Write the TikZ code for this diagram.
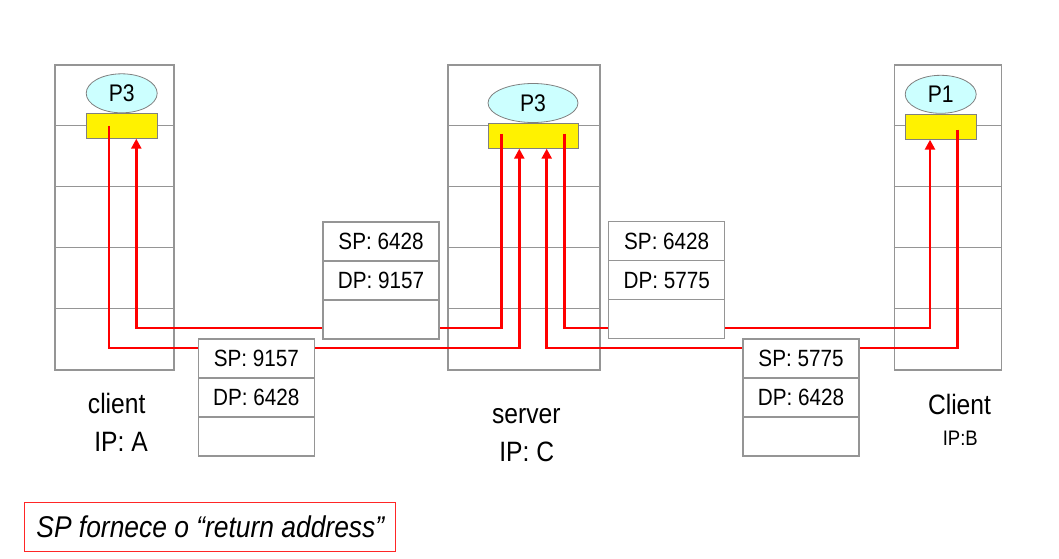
\documentclass[tikz,border=0pt]{standalone}
\usepackage{fontspec}
\setmainfont{Liberation Sans}[FakeStretch=0.88]
\usepackage{tikz}
\usetikzlibrary{arrows.meta,positioning,shapes.geometric}
\usepackage{xcolor}
\definecolor{proccyan}{HTML}{CCFFFF}
\definecolor{hostgray}{HTML}{959595}

\begin{document}
\begin{tikzpicture}[x=1pt,y=-1pt,line cap=butt,
  host/.style={draw=hostgray,line width=1.2pt,inner sep=0,minimum height=305pt},
  rowline/.style={hostgray,line width=1.2pt},
  proc/.style={ellipse,draw=gray,fill=proccyan,line width=0.8pt,inner sep=0,font=\fontsize{24}{26}\selectfont},
  sock/.style={draw=gray,fill=yellow,line width=0.8pt,inner sep=0,minimum width=71pt,minimum height=25pt},
  cell/.style={draw=hostgray,line width=1.2pt,fill=white,inner sep=0,minimum width=116pt,minimum height=39pt,font=\fontsize{23.5}{26}\selectfont},
  flow/.style={red,line width=2.8pt},
  tip/.style={-{Triangle[length=10pt,width=10pt]}},
  lbl/.style={anchor=base,font=\fontsize{28}{30}\selectfont}]
\useasboundingbox (0,0) rectangle (1059,558);

% hosts
\node[host,minimum width=119pt] (hostA) at (114.5,217.5) {};
\node[host,minimum width=152pt] (hostS) at (524,217.5) {};
\node[host,minimum width=107.4pt] (hostB) at (948,217.5) {};
\foreach \h in {hostA,hostS,hostB}
  \foreach \k in {1,...,4}
    \draw[rowline] ([yshift={-61pt*\k}]\h.north west) -- ([yshift={-61pt*\k}]\h.north east);

% sockets and processes
\node[sock] (sockA) at (121.8,125.8) {};
\node[sock,minimum width=90pt] (sockS) at (533.3,135.8) {};
\node[sock] (sockB) at (940.7,126.8) {};
\node[proc,minimum width=71pt,minimum height=39pt] (procA) at (121.7,93.3) {P3};
\node[proc,minimum width=90pt,minimum height=39pt] (procS) at (533,103) {P3};
\node[proc,minimum width=71pt,minimum height=38pt] (procB) at (940.7,94.3) {P1};

% flows
\coordinate (hi) at (0,328);
\coordinate (lo) at (0,348);
\coordinate (aOut) at ([xshift=-12.8pt]sockA.center);
\coordinate (aIn) at ([xshift=14.5pt]sockA.south);
\coordinate (sOutL) at ([xshift=-31.6pt,yshift=2pt]sockS.center);
\coordinate (sInL) at ([xshift=-14pt]sockS.south);
\coordinate (sInR) at ([xshift=13.4pt]sockS.south);
\coordinate (sOutR) at ([xshift=31pt,yshift=2pt]sockS.center);
\coordinate (bIn) at ([xshift=-10.7pt]sockB.south);
\coordinate (bOut) at ([xshift=16.6pt,yshift=-2.8pt]sockB.center);
\draw[flow,tip] (aOut) -- (aOut |- lo) -| (sInL);
\draw[flow,tip] (sOutL) -- (sOutL |- hi) -| (aIn);
\draw[flow,tip] (sOutR) -- (sOutR |- hi) -| (bIn);
\draw[flow,tip] (bOut) -- (bOut |- lo) -| (sInR);

% packets
\node[cell] (pkt1sp) at (256.3,358.5) {SP: 9157};
\node[cell,below=-1.2pt of pkt1sp] (pkt1dp) {DP: 6428};
\node[cell,below=-1.2pt of pkt1dp] (pkt1data) {};
\node[cell] (pkt2sp) at (381,241.5) {SP: 6428};
\node[cell,below=-1.2pt of pkt2sp] (pkt2dp) {DP: 9157};
\node[cell,below=-1.2pt of pkt2dp] (pkt2data) {};
\node[cell] (pkt3sp) at (666.7,241.2) {SP: 6428};
\node[cell,below=-1.2pt of pkt3sp] (pkt3dp) {DP: 5775};
\node[cell,below=-1.2pt of pkt3dp] (pkt3data) {};
\node[cell] (pkt4sp) at (801,358.5) {SP: 5775};
\node[cell,below=-1.2pt of pkt4sp] (pkt4dp) {DP: 6428};
\node[cell,below=-1.2pt of pkt4dp] (pkt4data) {};

% labels
\node[lbl] (nameA) at (116.7,413) {client};
\node[lbl] (ipA) at (121,451.7) {IP: A};
\node[lbl] (nameS) at (526.3,423.3) {server};
\node[lbl] (ipS) at (526.7,461.7) {IP: C};
\node[lbl] (nameB) at (959.5,414.3) {Client};
\node[lbl,font=\fontsize{21}{23}\selectfont] (ipB) at (960.3,445) {IP:B};

\node[draw=red!85,line width=1pt,minimum width=370.7pt,minimum height=48.7pt,inner sep=0,
  font=\fontsize{30}{32}\selectfont\itshape] (note) at (210.3,526.7) {SP fornece o “return address”};
\end{tikzpicture}
\end{document}
